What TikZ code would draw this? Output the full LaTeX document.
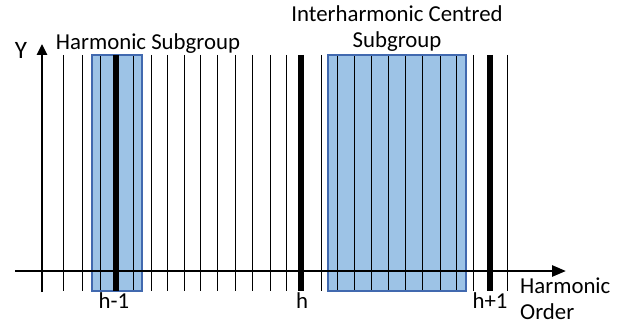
\documentclass[tikz,border=0pt]{standalone}
\usepackage{fontspec}
\setmainfont{Carlito}
\usepackage{xcolor}
\usetikzlibrary{arrows.meta,positioning}
\definecolor{sgfill}{RGB}{157,195,230}
\definecolor{sgedge}{RGB}{65,105,175}

\begin{document}
\begin{tikzpicture}[x=1pt, y=-1pt, every node/.style={font=\fontsize{22.8}{26}\selectfont, inner sep=0pt}]
  \useasboundingbox (0,0) rectangle (629,329);
  % subgroups
  \fill[sgfill] (92,55) rectangle (142,291);
  \fill[sgfill] (328,55) rectangle (466,291);
  % interharmonic bins
  \foreach \x in {63,82,100,133,151,167,184,200,217,235,252,270,286} { \draw[line width=0.9pt] (\x,55) -- (\x,291); }
  \foreach \x in {321,337,354,371,388,405,422,440,456,473,507} { \draw[line width=0.9pt] (\x,55) -- (\x,291); }
  \draw[sgedge, line width=1.3pt] (92,55) rectangle (142,291);
  \draw[sgedge, line width=1.3pt] (328,55) rectangle (466,291);
  % harmonics
  \foreach \x in {116,301,490} { \draw[line width=5.5pt] (\x,55) -- (\x,291); }
  % axes
  \draw[line width=2.6pt, -{Triangle[length=11pt,width=10pt]}] (42,292) -- (42,44);
  \draw[line width=2.6pt, -{Triangle[length=14pt,width=11pt]}] (15,271) -- (566,271);
  \node[anchor=base, font=\fontsize{25}{26}\selectfont] (ylab) at (21,59) {Y};
  \node[anchor=base] (hsg) at (148,50) {Harmonic Subgroup};
  \node[anchor=base, align=center] (isg) at (397,48) {Interharmonic Centred\\Subgroup};
  \node[anchor=base] (hm) at (114,308) {h-1};
  \node[anchor=base] (h0) at (302,308) {h};
  \node[anchor=base] (hp) at (490,308) {h+1};
  \node[anchor=base west, align=left] (xlab) at (520,319) {Harmonic\\Order};
\end{tikzpicture}
\end{document}
